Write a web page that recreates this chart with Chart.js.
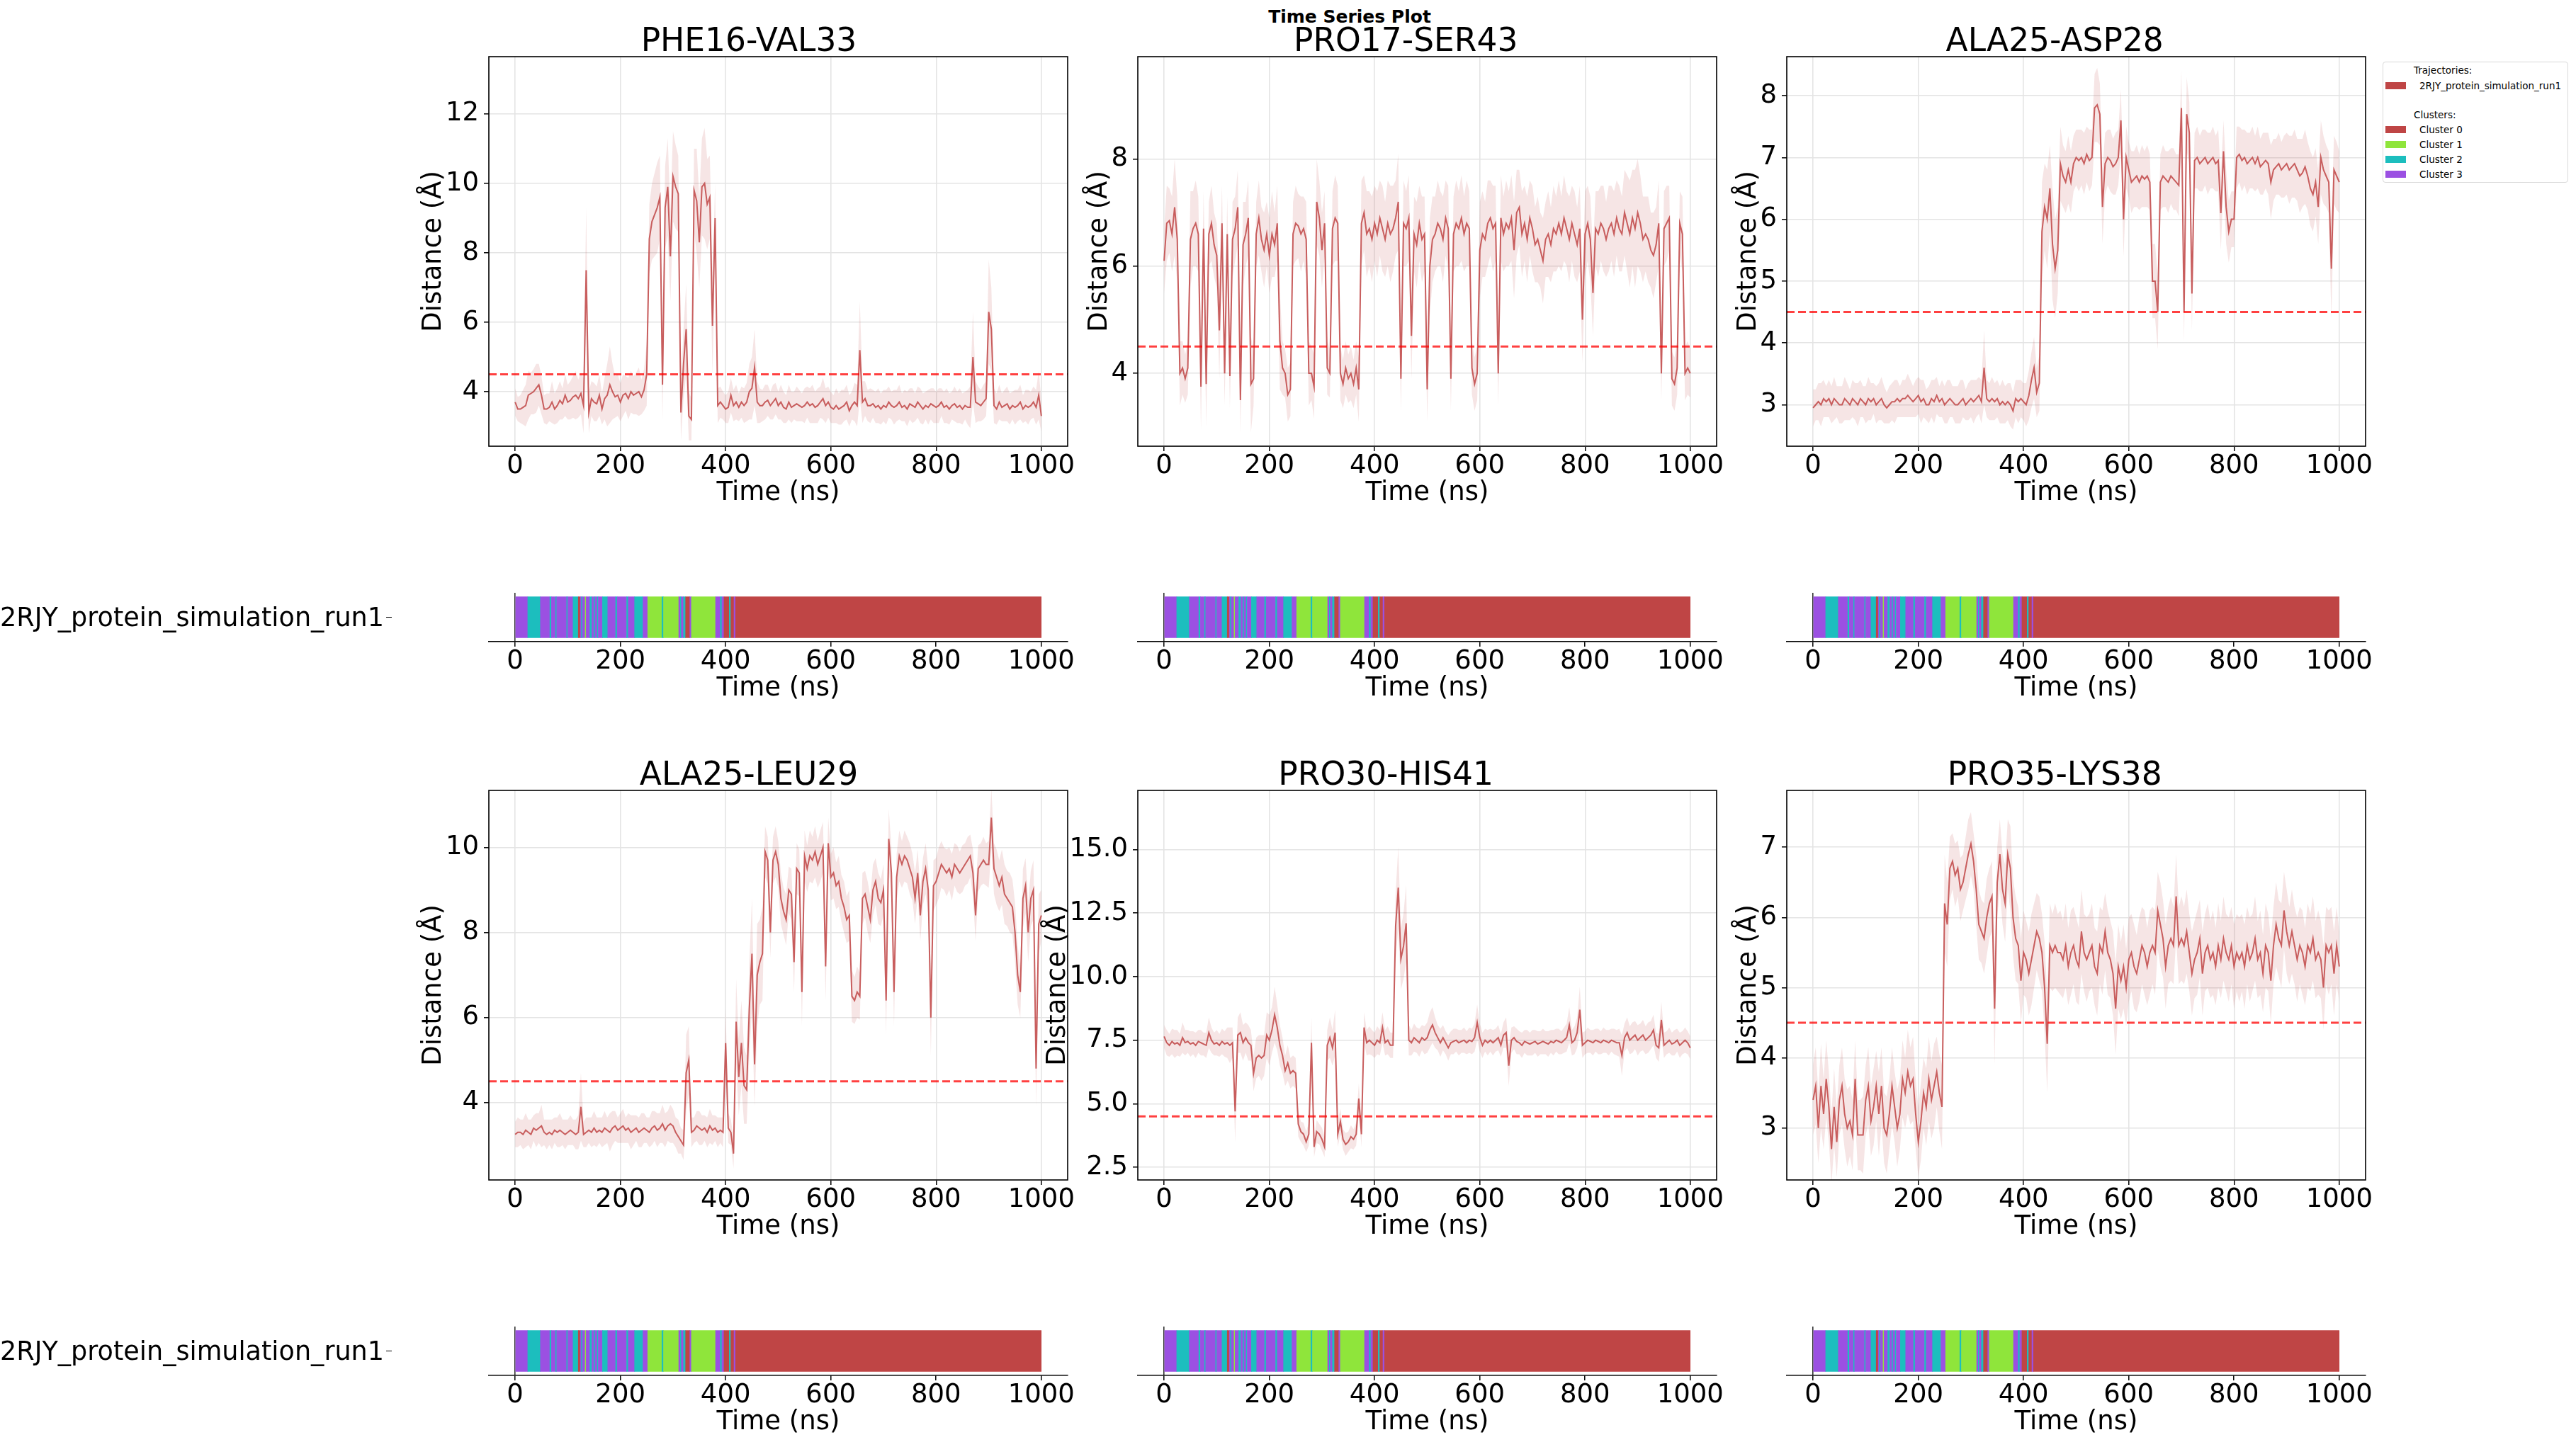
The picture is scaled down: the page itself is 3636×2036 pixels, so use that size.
<!DOCTYPE html>
<html>
<head>
<meta charset="utf-8">
<title>Time Series Plot</title>
<script src="https://cdn.jsdelivr.net/npm/chart.js@4.4.1/dist/chart.umd.min.js"></script>
<style>
  html, body { margin: 0; padding: 0; background: #fff; }
  body { position: relative; width: 3636px; height: 2036px; overflow: hidden; font-family: "DejaVu Sans", sans-serif; }
  canvas { position: absolute; }
  #suptitle { position: absolute; left: 1605px; width: 600px; top: 9px; text-align: center; font-weight: bold; font-size: 25px; line-height: 30px; }
  #legend { position: absolute; left: 3363px; top: 87px; width: 262px; height: 171px; border: 1px solid #d9d9d9; border-radius: 4px; box-sizing: border-box; font-size: 13.5px; }
  #legend .row { position: absolute; height: 21px; line-height: 21px; white-space: nowrap; }
  #legend .sw { position: absolute; left: 3px; width: 29px; height: 10px; }
  .runlabel { position: absolute; left: 0; width: 541px; text-align: right; font-size: 36.6px; line-height: 40px; white-space: nowrap; }
  .runtick { position: absolute; left: 545px; width: 8px; height: 1.5px; background: #000; }
</style>
</head>
<body>
<div id="suptitle">Time Series Plot</div>
<div id="legend"></div>
<script>
// ---- data ----
const RUN_NAME = '2RJY_protein_simulation_run1';
const CLUSTER_LABELS = ['Cluster 0', 'Cluster 1', 'Cluster 2', 'Cluster 3'];
const CLUSTER_COLORS = ['#BF4545', '#8FE53B', '#1CBEBE', '#9B50E2'];
const TRAJ_COLOR = '#BF4545';
const THRESHOLD = 4.5;
const TIME_STEP_NS = 5;
const X_TICKS = [0, 200, 400, 600, 800, 1000];

// [start ns, end ns, cluster]
const CLUSTER_SEGMENTS = [
  [0,24,3],[24,48,2],[48,66,3],[66,69,2],[69,77,3],[77,79,2],[79,98,3],[98,100,2],[100,110,3],[110,120,2],
  [120,124,0],[124,126,3],[126,128,2],[128,133,3],[133,135,1],[135,142,3],[142,146,2],[146,150,3],[150,152,2],[152,156,3],
  [156,158,2],[158,166,3],[166,176,2],[176,191,3],[191,194,2],[194,212,3],[212,215,2],[215,227,3],[227,243,2],[243,252,3],
  [252,279,1],[279,282,2],[282,311,1],[311,314,3],[314,316,2],[316,320,3],[320,324,2],[324,332,0],[332,335,3],[335,381,1],
  [381,390,3],[390,393,2],[393,397,3],[397,407,0],[407,410,2],[410,416,0],[416,419,3],[419,1000,0]
];

// mean distance every 5 ns (one line per 100 ns), and band half-width
const MEAN_PHE16_VAL33 = [
  3.7,3.5,3.5,3.55,3.6,3.9,3.95,4.0,4.1,4.2,3.9,3.5,3.5,3.55,3.7,3.5,3.6,3.75,3.65,3.9,
  3.7,3.75,3.85,3.9,3.8,3.95,3.6,7.5,3.4,3.8,3.7,3.65,3.9,3.5,3.8,3.9,4.2,4.0,3.85,3.9,
  3.7,3.9,3.95,3.8,4.0,3.9,3.95,4.0,3.85,4.05,4.5,8.4,8.9,9.1,9.3,9.6,4.2,9.3,9.9,7.9,
  10.2,9.9,9.7,3.4,4.8,5.8,3.3,3.2,9.8,9.5,8.3,9.9,10.0,9.4,9.6,5.9,9.0,3.6,3.7,3.6,
  3.5,3.55,3.9,3.6,3.7,3.55,3.7,3.6,3.7,4.0,4.1,4.7,3.7,3.6,3.6,3.7,3.75,3.6,3.7,3.8,
  3.6,3.7,3.55,3.5,3.7,3.55,3.6,3.65,3.6,3.55,3.6,3.7,3.6,3.65,3.55,3.6,3.7,3.8,3.6,3.7,
  3.55,3.5,3.6,3.5,3.55,3.6,3.7,3.45,3.6,3.7,3.6,5.2,3.7,3.8,3.6,3.6,3.65,3.55,3.6,3.5,
  3.6,3.55,3.7,3.6,3.55,3.6,3.7,3.55,3.6,3.5,3.65,3.6,3.55,3.7,3.6,3.5,3.6,3.55,3.65,3.6,
  3.55,3.6,3.7,3.55,3.6,3.5,3.6,3.65,3.55,3.6,3.5,3.6,3.55,3.55,5.0,3.7,3.65,3.6,3.7,3.8,
  6.3,5.8,3.6,3.5,3.7,3.55,3.6,3.65,3.5,3.6,3.55,3.6,3.7,3.5,3.6,3.55,3.6,3.7,3.55,3.9,
  3.3
];
const SD_PHE16_VAL33 = [
  0.4,0.35,0.4,0.5,0.6,0.7,0.6,0.65,0.7,0.6,0.55,0.4,0.45,0.4,0.6,0.45,0.5,0.55,0.45,0.6,
  0.5,0.55,0.6,0.7,0.55,0.6,0.8,1.8,0.6,0.5,0.55,0.5,0.6,0.45,0.6,0.9,1.1,0.8,0.6,0.6,
  0.55,0.6,0.5,0.6,0.6,0.55,0.6,0.7,0.5,0.6,0.9,1.0,1.1,1.2,1.3,1.2,1.0,1.2,1.4,1.3,
  1.3,1.2,1.1,0.8,1.0,1.3,0.7,0.6,1.2,1.5,1.3,1.4,1.6,1.3,1.2,1.4,1.0,0.5,0.45,0.4,
  0.4,0.45,0.5,0.45,0.5,0.4,0.45,0.5,0.55,0.8,0.9,1.1,0.6,0.5,0.45,0.5,0.45,0.4,0.5,0.45,
  0.4,0.5,0.45,0.4,0.5,0.45,0.4,0.5,0.45,0.4,0.5,0.45,0.5,0.55,0.45,0.5,0.45,0.6,0.5,0.45,
  0.45,0.4,0.5,0.45,0.5,0.45,0.5,0.45,0.4,0.55,0.6,1.4,0.6,0.5,0.45,0.5,0.4,0.45,0.5,0.45,
  0.45,0.5,0.45,0.4,0.5,0.45,0.5,0.4,0.45,0.5,0.45,0.5,0.4,0.45,0.5,0.45,0.4,0.5,0.45,0.5,
  0.45,0.5,0.4,0.45,0.5,0.45,0.4,0.5,0.45,0.5,0.45,0.4,0.5,0.6,1.3,0.6,0.5,0.45,0.5,0.5,
  1.5,1.2,0.5,0.45,0.5,0.4,0.45,0.5,0.45,0.4,0.5,0.45,0.5,0.4,0.45,0.5,0.4,0.45,0.5,0.7,
  0.45
];

const MEAN_PRO17_SER43 = [
  6.1,6.8,6.85,6.6,7.1,6.5,4.0,4.1,3.9,4.1,6.5,6.7,6.8,6.6,3.75,6.7,3.8,6.6,6.8,6.4,
  6.2,4.8,6.8,4.0,6.6,3.95,6.5,6.7,7.1,3.5,6.4,6.6,6.9,3.8,3.9,6.6,6.9,6.5,6.3,6.6,
  6.2,6.6,6.4,6.8,4.6,4.1,4.0,3.6,3.7,6.6,6.8,6.75,6.6,6.7,6.5,4.0,4.0,3.75,7.2,6.9,
  6.3,6.8,4.1,4.0,6.7,6.9,6.8,4.0,3.8,4.1,3.9,4.0,3.8,4.1,3.7,6.8,7.0,6.6,6.7,6.5,
  6.8,6.6,6.9,6.7,6.5,6.8,6.6,6.7,6.9,7.2,3.9,6.8,6.7,6.9,4.7,6.6,6.4,6.8,6.5,6.6,
  3.7,6.0,6.5,6.6,6.8,6.7,6.5,6.9,6.7,3.9,6.6,6.8,6.7,6.9,6.6,6.8,6.7,4.1,3.8,4.0,
  6.3,6.6,6.5,6.8,6.9,6.7,6.8,4.0,6.9,6.6,6.8,6.7,6.9,6.3,7.0,7.1,6.6,6.8,6.5,6.9,
  6.7,6.4,6.5,6.3,6.1,6.5,6.6,6.4,6.7,6.6,6.8,6.6,6.9,6.7,6.5,6.8,6.6,6.4,6.7,5.0,
  6.6,6.8,6.5,5.5,6.7,6.6,6.8,6.7,6.5,6.7,6.8,6.6,6.9,6.7,6.6,7.0,6.8,6.6,6.9,6.7,
  7.0,6.8,6.5,6.6,6.5,6.3,6.2,6.4,6.8,4.0,6.7,6.8,6.9,3.9,3.8,4.1,6.8,6.6,4.0,4.1,
  4.0
];
const SD_PRO17_SER43 = [
  0.6,0.7,0.6,0.7,0.9,0.8,0.6,0.5,0.45,0.5,0.9,0.7,0.8,0.7,0.8,0.7,0.8,0.6,0.7,0.6,
  0.6,0.9,0.7,0.6,0.7,0.6,0.7,0.6,0.7,0.6,0.8,0.6,0.7,0.9,0.5,0.6,0.7,0.6,0.7,0.6,
  0.7,0.8,0.6,0.7,0.9,0.5,0.45,0.5,0.5,0.6,0.7,0.6,0.7,0.6,0.7,0.6,0.5,0.6,0.8,0.7,
  0.7,0.6,0.5,0.45,0.7,0.8,0.7,0.5,0.45,0.5,0.45,0.5,0.45,0.5,0.6,0.8,0.7,0.8,0.7,0.8,
  0.7,0.8,0.7,0.8,0.7,0.8,0.9,0.8,0.7,0.9,0.6,0.8,0.7,0.8,0.8,0.7,0.8,0.7,0.8,0.7,
  0.6,0.9,0.8,0.7,0.8,0.7,0.8,0.7,0.8,0.6,0.7,0.8,0.7,0.8,0.7,0.8,0.7,0.5,0.5,0.5,
  0.9,0.8,0.7,0.8,0.7,0.8,0.7,0.6,0.8,0.7,0.8,0.7,0.8,0.9,0.8,0.7,0.8,0.7,0.8,0.7,
  0.8,0.7,0.8,0.7,0.8,0.7,0.8,0.7,0.8,0.7,0.8,0.7,0.8,0.7,0.8,0.7,0.8,0.7,0.8,0.8,
  0.8,0.7,0.8,0.8,0.7,0.8,0.7,0.8,0.7,0.8,0.7,0.8,0.7,0.8,0.7,0.8,0.9,1.0,0.9,1.1,
  1.0,0.9,0.8,0.7,0.8,0.7,0.8,0.7,0.8,0.5,0.7,0.7,0.6,0.5,0.5,0.5,0.6,0.7,0.5,0.5,
  0.45
];

const MEAN_ALA25_ASP28 = [
  2.95,3.0,3.05,3.0,3.1,3.05,3.1,3.0,3.1,3.05,3.0,3.0,3.1,3.05,3.0,3.1,3.05,3.0,3.1,3.05,
  3.0,3.1,3.05,3.1,3.0,3.05,3.1,3.0,2.95,3.0,3.05,3.05,3.1,3.05,3.1,3.1,3.15,3.1,3.05,3.1,
  3.15,3.05,3.1,3.0,3.0,3.1,3.05,3.15,3.05,3.1,3.0,3.05,3.1,3.05,3.0,3.0,3.05,3.1,3.0,3.05,
  3.1,3.05,3.1,3.15,3.05,3.6,3.1,3.05,3.1,3.05,3.1,3.0,3.05,3.0,3.05,3.0,2.9,3.1,3.05,3.1,
  3.05,3.0,3.15,3.4,3.6,3.2,3.35,5.8,6.2,6.0,6.5,5.6,5.2,5.5,6.9,6.7,6.6,6.8,6.6,6.9,
  7.0,6.95,7.0,6.9,7.05,6.95,7.0,7.8,7.85,7.7,6.2,6.9,7.0,6.95,6.85,6.9,7.0,7.6,6.0,7.0,
  6.8,6.6,6.65,6.7,6.6,6.7,6.65,6.7,6.6,5.0,5.0,4.5,6.6,6.7,6.65,6.6,6.7,6.65,6.6,6.55,
  7.8,4.5,7.7,7.4,4.8,6.95,7.0,6.9,6.95,7.0,6.9,6.95,7.0,6.9,6.95,6.1,7.1,6.2,5.8,6.0,
  6.0,7.0,7.05,6.95,7.0,6.9,6.95,7.0,6.9,7.0,6.85,6.9,6.95,6.9,6.6,6.8,6.85,6.9,6.8,6.85,
  6.9,6.8,6.85,6.9,6.8,6.7,6.75,6.85,6.7,6.5,6.4,6.6,6.2,7.0,6.8,6.7,6.6,5.2,6.8,6.7,
  6.6
];
const SD_ALA25_ASP28 = [
  0.3,0.25,0.3,0.35,0.3,0.25,0.3,0.3,0.35,0.25,0.3,0.3,0.35,0.3,0.25,0.3,0.3,0.35,0.3,0.25,
  0.3,0.35,0.3,0.25,0.3,0.3,0.35,0.3,0.25,0.3,0.3,0.35,0.3,0.25,0.3,0.3,0.35,0.3,0.25,0.3,
  0.3,0.35,0.3,0.25,0.3,0.3,0.35,0.3,0.25,0.3,0.3,0.35,0.3,0.25,0.3,0.3,0.35,0.3,0.25,0.3,
  0.3,0.35,0.3,0.3,0.35,0.6,0.3,0.3,0.35,0.3,0.3,0.3,0.35,0.3,0.3,0.35,0.3,0.3,0.35,0.3,
  0.3,0.35,0.4,0.45,0.5,0.4,0.45,0.8,0.7,0.8,0.7,0.9,0.8,0.7,0.6,0.5,0.5,0.55,0.5,0.45,
  0.45,0.5,0.45,0.5,0.45,0.5,0.45,0.55,0.6,0.5,0.6,0.5,0.45,0.5,0.45,0.5,0.45,0.5,0.6,0.5,
  0.45,0.5,0.45,0.5,0.45,0.5,0.45,0.5,0.45,0.6,0.6,0.6,0.45,0.5,0.45,0.5,0.45,0.5,0.45,0.5,
  0.6,0.5,0.6,0.5,0.6,0.45,0.5,0.45,0.5,0.45,0.5,0.45,0.5,0.45,0.5,0.6,0.5,0.6,0.5,0.45,
  0.45,0.5,0.45,0.5,0.45,0.5,0.45,0.5,0.45,0.5,0.45,0.5,0.45,0.5,0.6,0.5,0.45,0.5,0.45,0.5,
  0.5,0.55,0.5,0.55,0.5,0.6,0.55,0.6,0.55,0.6,0.6,0.55,0.6,0.6,0.55,0.5,0.5,0.8,0.55,0.55,
  0.5
];

const MEAN_ALA25_LEU29 = [
  3.25,3.3,3.3,3.25,3.35,3.3,3.25,3.4,3.35,3.4,3.45,3.3,3.25,3.3,3.25,3.35,3.3,3.35,3.3,3.25,
  3.3,3.35,3.3,3.25,3.3,3.9,3.25,3.3,3.35,3.3,3.4,3.3,3.35,3.3,3.4,3.35,3.3,3.4,3.45,3.35,
  3.4,3.45,3.35,3.4,3.3,3.35,3.4,3.3,3.35,3.4,3.35,3.3,3.4,3.45,3.35,3.4,3.5,3.35,3.45,3.5,
  3.45,3.3,3.2,3.1,3.0,4.7,5.0,3.3,3.35,3.45,3.4,3.35,3.4,3.3,3.45,3.35,3.4,3.3,3.35,3.3,
  5.4,3.4,3.3,2.8,5.9,4.6,5.4,4.4,4.3,6.2,7.5,4.9,7.0,7.3,7.5,9.9,9.7,8.0,9.7,9.9,
  9.6,8.8,8.5,8.3,9.0,8.9,7.3,9.5,9.4,6.6,9.8,9.5,9.8,9.7,9.9,9.6,9.8,10.0,7.2,10.1,
  9.3,9.4,9.1,9.2,8.8,8.6,8.3,8.4,6.5,6.4,6.6,6.5,8.8,8.9,8.6,8.3,9.0,9.2,8.8,8.7,
  9.0,6.4,10.2,9.4,6.6,9.3,9.8,9.6,9.8,9.7,9.5,9.3,8.8,9.4,8.4,9.2,9.5,9.0,6.0,9.1,
  9.2,9.4,9.6,9.5,9.4,9.5,9.3,9.6,9.5,9.4,9.5,9.6,9.7,9.8,9.4,8.4,9.5,9.6,9.7,9.6,
  9.6,10.7,9.5,9.3,9.1,9.3,8.9,8.8,8.7,8.6,8.0,7.0,6.6,8.8,9.1,8.0,8.8,9.0,4.8,8.2,
  8.4
];
const SD_ALA25_LEU29 = [
  0.3,0.35,0.3,0.35,0.4,0.3,0.35,0.3,0.4,0.35,0.5,0.3,0.35,0.3,0.35,0.3,0.35,0.4,0.3,0.35,
  0.3,0.35,0.3,0.35,0.4,0.8,0.3,0.35,0.3,0.35,0.4,0.35,0.3,0.35,0.4,0.3,0.45,0.4,0.35,0.3,
  0.35,0.4,0.3,0.35,0.4,0.35,0.3,0.35,0.4,0.35,0.3,0.35,0.4,0.35,0.4,0.35,0.45,0.4,0.35,0.45,
  0.4,0.35,0.4,0.3,0.35,0.9,0.8,0.35,0.3,0.35,0.4,0.35,0.3,0.35,0.4,0.35,0.3,0.35,0.3,0.35,
  0.8,0.35,0.3,0.35,1.0,0.9,1.0,0.9,0.8,1.1,1.3,1.0,1.2,1.0,1.1,0.6,0.55,0.6,0.55,0.6,
  0.55,0.6,0.55,0.6,0.55,0.6,0.7,0.6,0.55,0.8,0.6,0.55,0.6,0.55,0.6,0.55,0.6,0.6,0.8,0.6,
  0.55,0.6,0.55,0.6,0.55,0.6,0.55,0.6,0.6,0.55,0.6,0.55,0.6,0.55,0.6,0.55,0.6,0.55,0.6,0.55,
  0.6,0.8,0.7,0.6,0.8,0.55,0.6,0.55,0.6,0.55,0.6,0.55,0.6,0.55,0.6,0.55,0.6,0.55,0.9,0.6,
  0.55,0.6,0.55,0.5,0.55,0.5,0.55,0.5,0.55,0.5,0.55,0.5,0.55,0.5,0.55,0.6,0.55,0.5,0.55,0.5,
  0.55,0.7,0.6,0.65,0.6,0.65,0.7,0.65,0.7,0.65,0.7,0.7,0.6,0.7,0.65,0.7,0.65,0.7,0.9,0.7,
  0.6
];

const MEAN_PRO30_HIS41 = [
  7.65,7.4,7.3,7.45,7.35,7.4,7.3,7.6,7.4,7.45,7.35,7.4,7.3,7.45,7.4,7.35,7.3,7.8,7.5,7.35,
  7.4,7.3,7.45,7.35,7.4,7.3,7.4,4.7,7.7,7.8,7.4,7.6,7.4,7.3,6.2,6.8,6.9,6.8,6.9,7.7,
  7.5,7.9,8.5,8.0,7.3,6.9,6.3,6.6,6.2,6.3,6.2,4.2,3.9,3.8,3.5,3.8,7.4,3.3,3.9,3.8,
  3.6,3.3,7.3,7.6,7.2,7.8,3.8,4.3,3.6,3.4,3.5,3.7,3.6,3.8,5.2,3.8,8.0,7.4,7.5,7.4,
  7.3,7.5,7.4,8.0,7.4,7.5,7.3,7.3,12.0,13.5,10.7,11.2,12.1,7.5,7.4,7.6,7.5,7.4,7.6,7.5,
  7.6,7.9,8.1,7.8,7.6,7.4,7.6,7.4,7.2,7.4,7.45,7.5,7.4,7.45,7.5,7.4,7.5,7.45,7.6,8.2,
  7.6,7.3,7.5,7.4,7.5,7.4,7.5,7.6,7.3,7.7,7.8,6.5,7.5,7.6,7.45,7.4,7.3,7.45,7.4,7.35,
  7.4,7.45,7.35,7.4,7.45,7.4,7.35,7.45,7.4,7.5,7.45,7.4,7.5,7.6,8.1,7.4,7.5,7.8,8.7,7.3,
  7.4,7.5,7.45,7.4,7.5,7.45,7.4,7.5,7.45,7.4,7.5,7.45,7.4,7.4,6.9,7.6,7.8,7.5,7.6,7.7,
  7.5,7.6,7.7,7.5,7.6,7.7,7.9,7.3,7.2,8.3,7.3,7.4,7.5,7.35,7.4,7.5,7.3,7.4,7.5,7.4,
  7.2
];
const SD_PRO30_HIS41 = [
  0.45,0.5,0.45,0.5,0.55,0.5,0.45,0.6,0.5,0.45,0.5,0.45,0.5,0.45,0.5,0.45,0.5,0.6,0.5,0.45,
  0.5,0.45,0.5,0.5,0.6,0.7,0.6,1.2,0.7,0.8,0.7,0.6,0.7,0.6,0.7,0.8,0.8,0.9,0.8,0.9,
  1.0,0.9,1.1,0.9,0.8,0.7,0.6,0.7,0.6,0.6,0.6,0.5,0.4,0.45,0.4,0.45,1.0,0.4,0.45,0.4,
  0.45,0.4,0.6,0.8,0.7,0.9,0.5,0.5,0.4,0.45,0.4,0.45,0.4,0.45,0.6,0.5,0.6,0.5,0.55,0.5,
  0.5,0.55,0.5,0.6,0.5,0.55,0.5,0.5,1.3,1.6,1.2,1.3,1.5,0.6,0.5,0.55,0.5,0.55,0.5,0.55,
  0.6,0.7,0.7,0.6,0.5,0.55,0.5,0.45,0.5,0.45,0.5,0.45,0.5,0.45,0.5,0.45,0.5,0.5,0.55,0.7,
  0.55,0.5,0.45,0.5,0.45,0.5,0.45,0.5,0.45,0.5,0.6,0.8,0.5,0.45,0.5,0.45,0.5,0.45,0.5,0.45,
  0.5,0.45,0.5,0.45,0.5,0.45,0.5,0.45,0.5,0.45,0.5,0.45,0.5,0.55,0.7,0.5,0.55,0.6,0.9,0.5,
  0.45,0.5,0.45,0.5,0.45,0.5,0.45,0.5,0.45,0.5,0.45,0.5,0.5,0.55,0.8,0.55,0.6,0.55,0.6,0.55,
  0.6,0.55,0.6,0.55,0.6,0.55,0.6,0.5,0.55,0.7,0.5,0.45,0.5,0.45,0.5,0.45,0.5,0.45,0.5,0.45,
  0.45
];

const MEAN_PRO35_LYS38 = [
  3.4,3.6,3.0,3.6,3.2,3.7,3.3,2.7,3.3,2.8,3.4,3.6,3.2,3.0,3.1,2.9,3.7,2.9,2.9,2.9,
  3.4,3.6,3.1,3.3,3.6,3.2,3.6,3.0,2.9,3.2,3.6,3.3,3.0,3.2,3.7,3.5,3.8,3.6,3.7,3.2,
  2.8,3.1,3.5,3.3,3.7,3.4,3.6,3.8,3.5,3.3,6.2,5.9,6.7,6.8,6.6,6.7,6.4,6.5,6.7,6.9,
  7.05,6.8,6.4,5.9,5.8,5.7,6.0,6.2,6.3,4.7,6.5,6.9,6.4,6.2,6.9,6.7,6.0,5.7,5.6,5.1,
  5.5,5.4,5.2,5.4,5.6,5.8,5.7,5.5,5.0,4.2,5.6,5.5,5.6,5.5,5.5,5.4,5.6,5.3,5.5,5.6,
  5.4,5.3,5.8,5.5,5.4,5.5,5.6,5.3,5.2,5.6,5.5,5.8,5.5,5.4,5.2,4.7,5.3,5.1,5.3,5.0,
  5.4,5.5,5.3,5.2,5.4,5.6,5.5,5.3,5.5,5.6,5.5,6.1,5.9,5.7,5.3,5.6,5.7,5.6,6.3,5.6,
  5.7,5.6,5.8,5.5,5.2,5.4,5.5,5.7,5.2,5.5,5.6,5.4,5.5,5.3,5.6,5.4,5.7,5.5,5.4,5.6,
  5.3,5.5,5.4,5.5,5.3,5.6,5.4,5.5,5.7,5.4,5.5,5.2,5.6,5.5,5.1,5.6,5.9,5.7,5.6,6.1,
  5.8,5.6,5.8,5.6,5.4,5.6,5.5,5.3,5.6,5.5,5.7,5.4,5.5,5.4,5.0,5.6,5.5,5.6,5.2,5.6,
  5.3
];
const SD_PRO35_LYS38 = [
  0.5,0.55,0.5,0.6,0.5,0.55,0.5,0.5,0.55,0.5,0.5,0.55,0.5,0.55,0.5,0.5,0.55,0.5,0.5,0.55,
  0.5,0.55,0.5,0.55,0.5,0.6,0.55,0.5,0.55,0.5,0.55,0.5,0.55,0.5,0.55,0.5,0.6,0.55,0.6,0.5,
  0.5,0.55,0.5,0.55,0.6,0.55,0.6,0.5,0.55,0.6,0.7,0.6,0.45,0.4,0.45,0.4,0.45,0.4,0.45,0.5,
  0.45,0.4,0.5,0.5,0.45,0.5,0.55,0.5,0.5,0.8,0.5,0.5,0.5,0.55,0.5,0.6,0.55,0.6,0.55,0.6,
  0.6,0.55,0.6,0.65,0.6,0.55,0.6,0.55,0.65,0.7,0.6,0.55,0.6,0.55,0.6,0.55,0.6,0.55,0.6,0.55,
  0.6,0.55,0.6,0.55,0.6,0.55,0.6,0.55,0.6,0.55,0.6,0.55,0.6,0.55,0.6,0.65,0.6,0.55,0.6,0.55,
  0.6,0.55,0.6,0.55,0.6,0.55,0.6,0.55,0.6,0.55,0.6,0.55,0.6,0.55,0.6,0.55,0.6,0.55,0.6,0.55,
  0.6,0.55,0.6,0.55,0.6,0.55,0.6,0.55,0.6,0.55,0.6,0.55,0.6,0.55,0.6,0.55,0.6,0.55,0.6,0.55,
  0.6,0.55,0.6,0.55,0.6,0.55,0.6,0.55,0.6,0.55,0.6,0.55,0.6,0.55,0.6,0.55,0.6,0.55,0.6,0.55,
  0.6,0.55,0.6,0.55,0.6,0.55,0.6,0.55,0.6,0.55,0.6,0.55,0.6,0.55,0.6,0.55,0.6,0.55,0.6,0.55,
  0.5
];

const PANELS = [
  { title: 'PHE16-VAL33', mean: MEAN_PHE16_VAL33, sd: SD_PHE16_VAL33, yMin: 2.43, yMax: 13.65, yTicks: [4, 6, 8, 10, 12], digits: 0 },
  { title: 'PRO17-SER43', mean: MEAN_PRO17_SER43, sd: SD_PRO17_SER43, yMin: 2.64, yMax: 9.91, yTicks: [4, 6, 8], digits: 0 },
  { title: 'ALA25-ASP28', mean: MEAN_ALA25_ASP28, sd: SD_ALA25_ASP28, yMin: 2.33, yMax: 8.63, yTicks: [3, 4, 5, 6, 7, 8], digits: 0 },
  { title: 'ALA25-LEU29', mean: MEAN_ALA25_LEU29, sd: SD_ALA25_LEU29, yMin: 2.18, yMax: 11.34, yTicks: [4, 6, 8, 10], digits: 0 },
  { title: 'PRO30-HIS41', mean: MEAN_PRO30_HIS41, sd: SD_PRO30_HIS41, yMin: 2.0, yMax: 17.33, yTicks: [2.5, 5, 7.5, 10, 12.5, 15], digits: 1 },
  { title: 'PRO35-LYS38', mean: MEAN_PRO35_LYS38, sd: SD_PRO35_LYS38, yMin: 2.26, yMax: 7.81, yTicks: [3, 4, 5, 6, 7], digits: 0 }
];

// ---- layout ----
const COL_LEFT = [690, 1606, 2522];
const PLOT_W = 822;
const ROW_TOP = [80, 1116];
const PLOT_H = 550;
const STRIP_TOP = [837, 1873];
const STRIP_H = 69;
const X_AXIS_H = 85;
const X_MIN = -50, X_MAX = 1050;

const LINE_COLOR = 'rgba(191,69,69,0.85)';
const BAND_COLOR = 'rgba(191,69,69,0.14)';
const GRID_COLOR = '#e4e4e4';
const FONT = { size: 37, lineHeight: 1 };

Chart.defaults.font.family = "'DejaVu Sans', sans-serif";
Chart.defaults.color = '#000';

// matplotlib-style box around the plot area
const framePlugin = {
  id: 'frame',
  afterDraw(chart) {
    const a = chart.chartArea;
    const ctx = chart.ctx;
    ctx.save();
    ctx.strokeStyle = '#000';
    ctx.lineWidth = 1.6;
    ctx.strokeRect(a.left, a.top, a.right - a.left, a.bottom - a.top);
    ctx.restore();
  }
};

function addCanvas(left, top, w, h) {
  const c = document.createElement('canvas');
  c.width = w; c.height = h;
  c.style.left = left + 'px';
  c.style.top = top + 'px';
  c.style.width = w + 'px';
  c.style.height = h + 'px';
  document.body.appendChild(c);
  return c;
}

// move the plot area to a fixed box inside the canvas
function pin(chart, box) {
  const a = chart.chartArea;
  chart.options.layout.padding = {
    left: box.left - a.left,
    top: box.top - a.top,
    right: a.right - box.right,
    bottom: a.bottom - box.bottom
  };
  chart.update('none');
}

function timeAxis(gridColor) {
  return {
    type: 'linear',
    min: X_MIN,
    max: X_MAX,
    afterBuildTicks: axis => { axis.ticks = X_TICKS.map(v => ({ value: v })); },
    afterFit: axis => { axis.height = X_AXIS_H; },
    ticks: { color: '#000', font: FONT, padding: 3, maxRotation: 0, autoSkip: false, callback: v => String(v) },
    grid: { color: gridColor, lineWidth: 1.6, drawTicks: true, tickLength: 7, tickColor: '#000', tickWidth: 1.5 },
    title: { display: true, text: 'Time (ns)', color: '#000', font: FONT, padding: { top: 1, bottom: 0 } }
  };
}

PANELS.forEach((p, k) => {
  const row = Math.floor(k / 3), col = k % 3;
  const times = p.mean.map((_, i) => i * TIME_STEP_NS);
  const canvas = addCanvas(COL_LEFT[col] - 200, ROW_TOP[row] - 80, 200 + PLOT_W + 8, 80 + PLOT_H + 100);

  const chart = new Chart(canvas, {
    type: 'line',
    data: {
      datasets: [
        {
          label: 'threshold',
          data: [{ x: X_MIN, y: THRESHOLD }, { x: X_MAX, y: THRESHOLD }],
          borderColor: 'rgba(255,0,0,0.75)', borderWidth: 3, borderDash: [11, 5],
          pointRadius: 0, fill: false
        },
        {
          label: RUN_NAME,
          data: p.mean.map((v, i) => ({ x: times[i], y: v })),
          borderColor: LINE_COLOR, borderWidth: 2, pointRadius: 0, fill: false
        },
        {
          label: 'upper',
          data: p.mean.map((v, i) => ({ x: times[i], y: v + p.sd[i] })),
          borderColor: 'rgba(0,0,0,0)', borderWidth: 0, pointRadius: 0,
          backgroundColor: BAND_COLOR, fill: '+1'
        },
        {
          label: 'lower',
          data: p.mean.map((v, i) => ({ x: times[i], y: v - p.sd[i] })),
          borderColor: 'rgba(0,0,0,0)', borderWidth: 0, pointRadius: 0, fill: false
        }
      ]
    },
    options: {
      responsive: false,
      animation: false,
      devicePixelRatio: 1,
      layout: { padding: 0 },
      plugins: {
        legend: { display: false },
        tooltip: { enabled: false },
        title: {
          display: true, text: p.title, color: '#000',
          font: { size: 45.5, weight: 'normal', lineHeight: 1 },
          padding: { top: 0, bottom: -3 }
        }
      },
      scales: {
        x: timeAxis(GRID_COLOR),
        y: {
          type: 'linear',
          min: p.yMin,
          max: p.yMax,
          afterBuildTicks: axis => { axis.ticks = p.yTicks.map(v => ({ value: v })); },
          ticks: { color: '#000', font: FONT, padding: 7, callback: v => v.toFixed(p.digits) },
          grid: { color: GRID_COLOR, lineWidth: 1.6, drawTicks: true, tickLength: 7, tickColor: '#000', tickWidth: 1.5 },
          title: { display: true, text: 'Distance (Å)', color: '#000', font: FONT, padding: { top: 0, bottom: -9 } }
        }
      }
    },
    plugins: [framePlugin]
  });
  pin(chart, { left: 200, top: 80, right: 200 + PLOT_W, bottom: 80 + PLOT_H });

  // cluster strip below each panel
  const strip = addCanvas(COL_LEFT[col] - 200, STRIP_TOP[row] - 10, 200 + PLOT_W + 8, 10 + STRIP_H + 95);
  const stripAxis = timeAxis(ctx => (ctx.tick && ctx.tick.value === 0) ? '#333' : 'rgba(0,0,0,0)');
  stripAxis.border = { display: true, color: '#000', width: 1.6 };

  const stripChart = new Chart(strip, {
    type: 'bar',
    data: {
      labels: [RUN_NAME],
      datasets: [{
        label: RUN_NAME,
        data: CLUSTER_SEGMENTS.map(s => ({ x: [s[0], s[1]], y: RUN_NAME })),
        backgroundColor: CLUSTER_SEGMENTS.map(s => CLUSTER_COLORS[s[2]]),
        borderWidth: 0,
        barThickness: 58
      }]
    },
    options: {
      indexAxis: 'y',
      responsive: false,
      animation: false,
      devicePixelRatio: 1,
      layout: { padding: 0 },
      plugins: { legend: { display: false }, tooltip: { enabled: false } },
      scales: {
        x: stripAxis,
        y: {
          type: 'category',
          ticks: { display: false },
          grid: { display: false, drawTicks: false },
          border: { display: false }
        }
      }
    }
  });
  pin(stripChart, { left: 200, top: 10, right: 200 + PLOT_W, bottom: 10 + STRIP_H });

  // trajectory name on the left of the first column
  if (col === 0) {
    const centerY = STRIP_TOP[row] + STRIP_H / 2;
    const lab = document.createElement('div');
    lab.className = 'runlabel';
    lab.style.top = (centerY - 20) + 'px';
    lab.textContent = RUN_NAME;
    document.body.appendChild(lab);
    const tick = document.createElement('div');
    tick.className = 'runtick';
    tick.style.top = (centerY - 0.75) + 'px';
    document.body.appendChild(tick);
  }
});

// ---- legend ----
const legend = document.getElementById('legend');
function legendRow(text, centerY, textLeft, color) {
  const r = document.createElement('div');
  r.className = 'row';
  r.style.top = (centerY - 10.5) + 'px';
  r.style.left = textLeft + 'px';
  r.textContent = text;
  legend.appendChild(r);
  if (color) {
    const s = document.createElement('div');
    s.className = 'sw';
    s.style.top = (centerY - 5) + 'px';
    s.style.background = color;
    legend.appendChild(s);
  }
}
legendRow('Trajectories:', 11, 43);
legendRow(RUN_NAME, 33, 51, TRAJ_COLOR);
legendRow('Clusters:', 74, 43);
CLUSTER_LABELS.forEach((lab, i) => legendRow(lab, 95 + 21 * i, 51, CLUSTER_COLORS[i]));
</script>
</body>
</html>
